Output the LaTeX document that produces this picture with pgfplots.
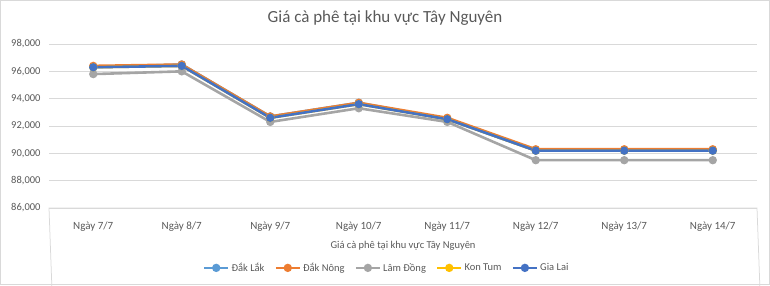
\documentclass[border=0pt]{standalone}
\usepackage{pgfplots}
\pgfplotsset{compat=1.18}
\usepackage{fontspec}
\setmainfont{Carlito}
\definecolor{cA}{HTML}{5B9BD5}
\definecolor{cB}{HTML}{ED7D31}
\definecolor{cC}{HTML}{A5A5A5}
\definecolor{cD}{HTML}{FFC000}
\definecolor{cE}{HTML}{4472C4}
\definecolor{gridc}{HTML}{D9D9D9}
\definecolor{txt}{HTML}{595959}
\begin{document}
\begin{tikzpicture}[x=1pt,y=1pt]
\useasboundingbox (0,0) rectangle (770,285);
\draw[gridc, line width=0.75pt] (0.5,0.5) rectangle (769.5,284.5);
\node[txt, font=\fontsize{17}{20}\selectfont] at (385,267) {Giá cà phê tại khu vực Tây Nguyên};
\begin{axis}[
  at={(49pt,77pt)}, anchor=south west,
  width=708pt, height=164pt, scale only axis,
  xmin=-0.5, xmax=7.5, ymin=86000, ymax=98000,
  ytick={86000,88000,...,98000},
  xtick={0,...,7},
  xticklabels={Ngày 7/7,Ngày 8/7,Ngày 9/7,Ngày 10/7,Ngày 11/7,Ngày 12/7,Ngày 13/7,Ngày 14/7},
  scaled y ticks=false,
  /pgf/number format/fixed, /pgf/number format/precision=0,
  /pgf/number format/1000 sep={,}, /pgf/number format/assume math mode=true,
  tick style={draw=none},
  axis line style={draw=none},
  ymajorgrids, major grid style={gridc, line width=0.75pt},
  ticklabel style={txt, font=\fontsize{10.5}{12}\selectfont},
  xticklabel style={yshift=-10pt, font=\fontsize{11}{12}\selectfont},
  yticklabel style={xshift=-5pt},
  xlabel={Giá cà phê tại khu vực Tây Nguyên},
  xlabel style={txt, font=\fontsize{10.5}{12}\selectfont, yshift=-3pt},
  clip=false,
  legend columns=5,
  legend style={at={(0.477,-0.365)}, anchor=center, draw=none, fill=none,
    font=\fontsize{10.5}{12}\selectfont, text=txt,
    /tikz/every even column/.append style={column sep=8pt}},
  legend image code/.code={\draw[mark repeat=2,mark phase=2] plot coordinates {(0pt,0pt) (12pt,0pt) (24pt,0pt)};},
  every axis plot/.append style={line width=2.6pt, mark=*, mark size=2.8pt, mark options={solid, line width=0pt}},
]
\addplot[cA, mark options={fill=cA, draw=cA}] coordinates {(0,96300) (1,96500) (2,92700) (3,93700) (4,92500) (5,90200) (6,90200) (7,90200)};
\addlegendentry{Đắk Lắk}
\addplot[cB, mark options={fill=cB, draw=cB}] coordinates {(0,96400) (1,96500) (2,92700) (3,93700) (4,92600) (5,90300) (6,90300) (7,90300)};
\addlegendentry{Đắk Nông}
\addplot[cC, mark options={fill=cC, draw=cC}] coordinates {(0,95800) (1,96000) (2,92300) (3,93300) (4,92300) (5,89500) (6,89500) (7,89500)};
\addlegendentry{Lâm Đồng}
\addplot[cD, mark options={fill=cD, draw=cD}] coordinates {(0,96300) (1,96400) (2,92600) (3,93600) (4,92500) (5,90200) (6,90200) (7,90200)};
\addlegendentry{Kon Tum}
\addplot[cE, mark options={fill=cE, draw=cE}] coordinates {(0,96300) (1,96400) (2,92600) (3,93600) (4,92500) (5,90200) (6,90200) (7,90200)};
\addlegendentry{Gia Lai}
\draw[gridc, line width=0.75pt] (rel axis cs:0,0) ++(0,-42pt) -- (rel axis cs:0,0) -- (rel axis cs:1,0) -- ++(0,-42pt);
\end{axis}
\end{tikzpicture}
\end{document}
